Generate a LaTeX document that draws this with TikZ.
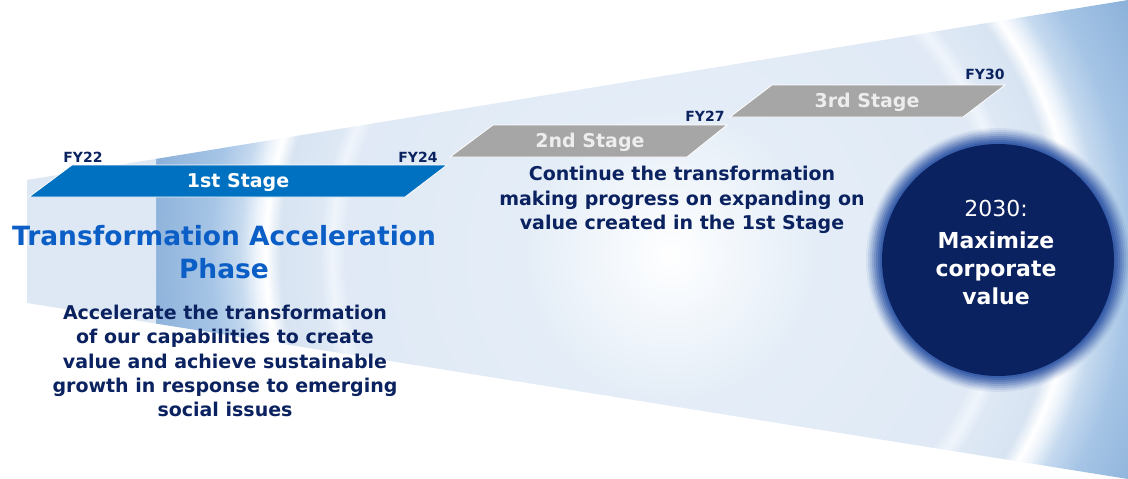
\documentclass[tikz,border=0pt]{standalone}
\usepackage{fontspec}
\setmainfont{DejaVu Sans}
\usetikzlibrary{calc}
\definecolor{navy}{HTML}{0B2260}
\definecolor{titleblue}{HTML}{0B5EC6}
\definecolor{stageblue}{HTML}{0070C0}
\definecolor{stagegray}{HTML}{A6A6A6}
\definecolor{stagetext}{HTML}{EDEDED}
\definecolor{panel}{HTML}{DDE8F4}
\definecolor{haloblue}{HTML}{2F56A6}
\definecolor{fA}{HTML}{F7FAFD}
\definecolor{fB}{HTML}{E4EDF7}
\definecolor{fC}{HTML}{E0EAF6}
\definecolor{fC2}{HTML}{E0E9F5}
\definecolor{fD}{HTML}{F0F5FB}
\definecolor{fE}{HTML}{DEE8F5}
\definecolor{fF}{HTML}{D8E4F2}
\definecolor{fG}{HTML}{EEF4FB}
\definecolor{fH}{HTML}{C6DAEF}
\definecolor{fH2}{HTML}{A6C5E6}
\definecolor{fI}{HTML}{8DB2DA}
\pgfdeclareradialshading{funnelshade}{\pgfpointorigin}{%
  color(0bp)=(white); color(1.8bp)=(fA); color(6.5bp)=(fB);
  color(13.39bp)=(fC); color(14.51bp)=(fC2); color(15.09bp)=(fD);
  color(15.63bp)=(fE); color(17.41bp)=(fF); color(18.04bp)=(white);
  color(18.48bp)=(fG); color(19.2bp)=(fH); color(20.5bp)=(fH2);
  color(23.2bp)=(fI); color(50bp)=(fI)}
\tikzset{
  fylabel/.style={font=\fontsize{14}{16}\selectfont\bfseries, text=navy, inner sep=0pt},
  stagelabel/.style={font=\fontsize{19}{22}\selectfont\bfseries, inner sep=0pt},
  bodytext/.style={font=\fontsize{19}{24.4}\selectfont\bfseries, text=navy, align=center, inner sep=0pt},
  stagebar/.style={draw=white, line width=0.8pt},
}
\begin{document}
\begin{tikzpicture}[x=1pt,y=-1pt]
\useasboundingbox (0,0) rectangle (1128,479);
\fill[white] (0,0) rectangle (1128,479);
% funnel
\begin{scope}
  \clip (156,158.9) -- (1128,0) -- (1128,479) -- (156,323.6) -- cycle;
  \shade[shading=funnelshade] (110,-305) rectangle (1230,815);
\end{scope}
% left panel
\fill[panel] (27,180) -- (156,158.9) -- (156,323.6) -- (27,303) -- cycle;
% goal circle halo
\foreach \r/\o in {132/0.08,130/0.12,128/0.16,126/0.2,124/0.26,122/0.32,120/0.42,118/0.58} {
  \fill[haloblue, opacity=\o] (998,260) circle[radius=\r pt];
}
\node[circle, fill=navy, minimum size=232pt, inner sep=0pt] (goal) at (998,260) {};
\node[text=white, align=center, inner sep=0pt, font=\fontsize{22}{28}\selectfont] (goaltext) at (996,252)
  {2030:\\[4pt]\bfseries Maximize\\\bfseries corporate\\\bfseries value};
% stage bars
\fill[stageblue, stagebar] (29,197) -- (405,197) -- (447,165) -- (72,165) -- cycle;
\fill[stagegray, stagebar] (450,157) -- (687,157) -- (727,125) -- (493,125) -- cycle;
\fill[stagegray, stagebar] (730,117) -- (963,117) -- (1005,85) -- (772,85) -- cycle;
\node[stagelabel, text=white] (s1) at (238,182) {1st Stage};
\node[stagelabel, text=stagetext] (s2) at (590,142) {2nd Stage};
\node[stagelabel, text=stagetext] (s3) at (867,102) {3rd Stage};
% FY labels
\node[fylabel] (fy22) at (83,157) {FY22};
\node[fylabel] (fy24) at (418,157) {FY24};
\node[fylabel] (fy27) at (705,116) {FY27};
\node[fylabel] (fy30) at (985,74) {FY30};
% texts
\node[font=\fontsize{26.5}{33}\selectfont\bfseries, text=titleblue, align=center, inner sep=0pt] (title) at (224,252)
  {Transformation Acceleration\\Phase};
\node[bodytext] (desc1) at (225,361)
  {Accelerate the transformation\\of our capabilities to create\\value and achieve sustainable\\growth in response to emerging\\social issues};
\node[bodytext] (desc2) at (682,200)
  {Continue the transformation\\making progress on expanding on\\value created in the 1st Stage};
\end{tikzpicture}
\end{document}
